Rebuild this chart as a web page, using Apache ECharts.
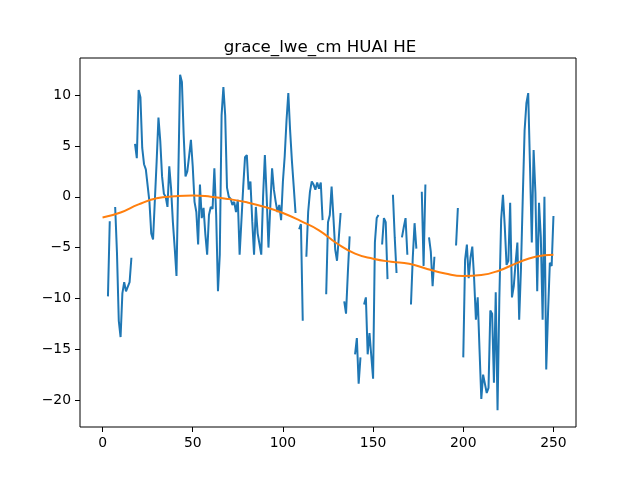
<!DOCTYPE html>
<html lang="en">
<head>
    <meta charset="UTF-8">
    <title>grace_lwe_cm HUAI HE</title>
    <script src="https://cdn.jsdelivr.net/npm/echarts@6/dist/echarts.min.js"></script>
    <style>
        html, body { margin: 0; padding: 0; background: #fff; }
        #chart { width: 640px; height: 480px; }
    </style>
</head>
<body>
    <div id="chart"></div>
    <script>
        // monthly index 0..250, null = missing month
        const lweValues = [
            null, null, null, -9.8, -2.4, null, null, -1.0, -5.5, -12.2,
            -13.8, -9.5, -8.4, -9.3, -9.4, -8.4, -6.0, null, 5.2, 3.8,
            10.5, 9.8, 4.8, 3.2, 2.7, 2.6, -0.5, -3.6, -4.2, -4.2,
            3.5, 7.8, 5.5, 2.0, 0.3, 0.0, -1.0, 3.0, 0.8, -2.5,
            -5.0, -7.8, 2.0, 12.0, 11.3, 6.0, 2.0, 2.5, 4.0, 5.6,
            3.0, -0.5, -1.5, -4.7, 1.2, -2.1, -1.1, -3.7, -5.7, -1.8,
            -1.0, -1.2, 2.8, -1.8, -9.3, -5.7, 8.0, 10.8, 8.0, 0.9,
            0.0, -0.2, -0.8, -0.5, -1.5, -0.3, -5.7, -5.7, 1.0, 3.9,
            4.1, 0.7, 1.5, -2.4, -5.7, -1.0, -3.6, -3.6, -5.7, 0.0,
            4.1, 0.0, -5.0, -1.0, 2.8, 0.7, -0.5, -1.5, -0.8, -2.3,
            1.5, 4.0, 7.5, 10.2, 6.5, 3.5, 1.0, -1.6, null, -3.2,
            -2.7, -12.2, null, -5.9, -1.5, 0.5, 1.5, 1.2, 0.7, 1.4,
            0.8, 1.4, -2.3, null, -9.6, -2.5, -1.8, 1.0, -2.0, -5.2,
            -6.3, -4.0, -1.6, null, -10.3, -11.5, -7.5, -3.9, null, null,
            -15.5, -13.9, -18.4, -15.8, null, -10.6, -9.9, -15.5, -13.4, -13.3,
            -17.9, -4.5, -2.1, -1.8, null, -4.7, -2.1, -2.5, -8.1, null,
            null, 0.2, -4.0, -7.5, null, null, -4.0, -3.0, -2.1, -5.7,
            null, -10.6, -6.0, -2.6, -5.1, null, null, 0.5, -6.8, 1.2,
            null, -4.0, -5.4, -8.8, -5.9, null, null, null, null, null,
            null, null, null, null, null, null, -4.8, -1.1, null, null,
            -15.8, -6.2, -4.7, -8.0, -6.0, -4.9, -8.0, -12.1, -9.9, -15.0,
            -19.9, -17.5, -17.5, -19.3, -18.8, -11.2, -11.5, -18.3, -9.4, -21.0,
            -10.0, -2.25, 0.2, -2.9, -6.7, -6.3, -0.6, -9.9, -8.8, -6.5,
            -4.5, -12.1, -7.0, 0.0, 6.5, 9.2, 10.2, 3.0, -4.5, 4.6,
            0.4, -9.3, -0.6, -4.0, -12.1, 0.0, -17.0, -11.4, -6.5, -6.8,
            -1.9
        ];

        // trend line read every 10 months
        const trendX = [0, 10, 20, 30, 40, 50, 60, 70, 80, 90, 100, 110, 120,
            130, 140, 150, 160, 170, 180, 190, 200, 210, 220, 230, 240, 250];
        const trendValues = [-2.05, -1.55, -0.75, -0.15, 0.05, 0.13, 0.0, -0.23, -0.55, -1.0, -1.6, -2.4, -3.3,
            -4.6, -5.6, -6.1, -6.4, -6.6, -7.1, -7.55, -7.8, -7.7, -7.25, -6.5, -5.9, -5.7];

        const xTicks = [0, 50, 100, 150, 200, 250];
        const yTicks = [-20, -15, -10, -5, 0, 5, 10];

        const lweData = lweValues.map((v, i) => [i, v]);
        const trendData = trendX.map((x, i) => [x, trendValues[i]]);

        const minus = v => String(v).replace('-', '\u2212');
        const font = 'DejaVu Sans';

        const chart = echarts.init(document.getElementById('chart'));
        chart.setOption({
            animation: false,
            title: {
                text: 'grace_lwe_cm HUAI HE',
                left: 'center',
                top: 34,
                textStyle: { fontFamily: font, fontSize: 16.7, fontWeight: 'normal', color: '#000' }
            },
            grid: {
                left: 80, right: 64, top: 58, bottom: 53,
                show: true, borderColor: '#000', borderWidth: 1, backgroundColor: 'transparent'
            },
            xAxis: {
                type: 'value',
                min: -12.5,
                max: 262.5,
                splitLine: { show: false },
                axisLine: { show: false, onZero: false },
                axisTick: { show: true, length: 5, lineStyle: { color: '#000' }, customValues: xTicks },
                axisLabel: {
                    customValues: xTicks, margin: 9, color: '#000',
                    fontFamily: font, fontSize: 13.9, formatter: minus
                }
            },
            yAxis: {
                type: 'value',
                min: -22.65,
                max: 13.65,
                splitLine: { show: false },
                axisLine: { show: false, onZero: false },
                axisTick: { show: true, length: 5, lineStyle: { color: '#000' }, customValues: yTicks },
                axisLabel: {
                    customValues: yTicks, margin: 9, color: '#000',
                    fontFamily: font, fontSize: 13.9, formatter: minus
                }
            },
            series: [
                {
                    type: 'line',
                    data: lweData,
                    showSymbol: false,
                    connectNulls: false,
                    lineStyle: { color: '#1f77b4', width: 2 },
                    itemStyle: { color: '#1f77b4' }
                },
                {
                    type: 'line',
                    data: trendData,
                    smooth: true,
                    showSymbol: false,
                    lineStyle: { color: '#ff7f0e', width: 2 },
                    itemStyle: { color: '#ff7f0e' }
                }
            ]
        });
    </script>
</body>
</html>
